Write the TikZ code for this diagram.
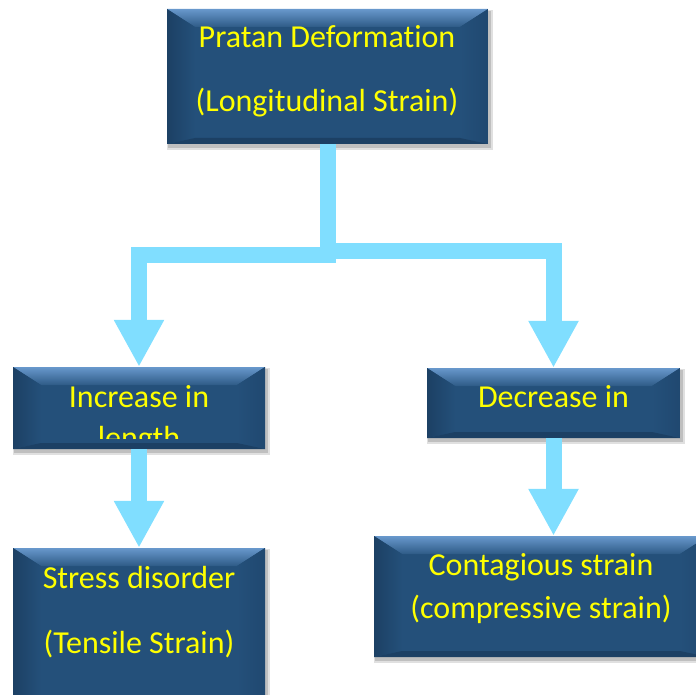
\documentclass[tikz,border=0pt]{standalone}
\usepackage{fontspec}
\setmainfont[Ligatures=NoCommon]{Carlito}
\usetikzlibrary{arrows.meta,positioning}
\pgfdeclarelayer{bg}
\pgfsetlayers{bg,main}
\definecolor{boxblue}{RGB}{36,80,122}
\definecolor{bevtop}{RGB}{104,152,204}
\definecolor{bevdark}{RGB}{28,64,100}
\definecolor{bevside}{RGB}{32,72,112}
\definecolor{flowblue}{RGB}{128,222,255}
\definecolor{txtyellow}{RGB}{255,255,0}

\tikzset{
  bevelbox/.style 2 args={rectangle, fill=boxblue, inner sep=0pt,
    minimum width=#1pt, minimum height=#2pt,
    path picture={
      \path (path picture bounding box.north west) coordinate (nw)
            (path picture bounding box.north east) coordinate (ne)
            (path picture bounding box.south west) coordinate (sw)
            (path picture bounding box.south east) coordinate (se);
      \shade[top color=bevtop, bottom color=boxblue!85!bevtop]
        (nw) -- (ne) -- ([shift={(-28pt,-18pt)}]ne) -- ([shift={(28pt,-18pt)}]nw) -- cycle;
      \shade[left color=bevdark, right color=boxblue]
        (nw) -- ([shift={(28pt,-18pt)}]nw) -- ([shift={(28pt,6pt)}]sw) -- (sw) -- cycle;
      \shade[left color=boxblue, right color=bevside]
        (ne) -- ([shift={(-28pt,-18pt)}]ne) -- ([shift={(-28pt,6pt)}]se) -- (se) -- cycle;
      \fill[bevdark]
        (sw) -- ([shift={(28pt,6pt)}]sw) -- ([shift={(-28pt,6pt)}]se) -- (se) -- cycle;
    }},
  flow/.style={draw=flowblue, line width=16pt, line join=miter,
    -{Triangle[width=47pt,length=47pt]}},
  lbl/.style={text=txtyellow, inner sep=0pt, anchor=base,
    font=\fontsize{32}{38}\selectfont}
}

\begin{document}
\begin{tikzpicture}[x=1pt,y=-1pt]
  \useasboundingbox (0,0) rectangle (696,695);

  % boxes
  \node[bevelbox={321}{135}] (top) at (327.5,76.5) {};
  \node[bevelbox={252}{82}]  (inc) at (139,408) {};
  \node[bevelbox={253}{70}]  (dec) at (553.5,403) {};
  \node[bevelbox={252}{164}] (ten) at (139,630) {};
  \node[bevelbox={334}{121}] (com) at (541,596.5) {};

  % soft shadows
  \begin{pgfonlayer}{bg}
    \foreach \b in {top,inc,dec,ten,com} {
      \fill[black,opacity=0.12] ([shift={(0pt,-1pt)}]\b.north west) rectangle ([shift={(5pt,-6pt)}]\b.south east);
      \fill[black,opacity=0.15] ([shift={(1pt,-2pt)}]\b.north west) rectangle ([shift={(3pt,-4pt)}]\b.south east);
    }
  \end{pgfonlayer}

  % texts
  \node[lbl] (toptxta) at (327,48) {Pratan Deformation};
  \node[lbl] (toptxtb) at (327,112) {(Longitudinal Strain)};
  \begin{scope}
    \clip (inc.north west) rectangle ([yshift=11pt]inc.south east);
    \node[lbl] (inctxta) at (139,407) {Increase in};
    \node[lbl] (inctxtb) at (139,448) {length};
  \end{scope}
  \node[lbl] (dectxt) at (553.5,407) {Decrease in};
  \node[lbl] (tentxta) at (139,588) {Stress disorder};
  \node[lbl] (tentxtb) at (139,653) {(Tensile Strain)};
  \node[lbl] (comtxta) at (541,575) {Contagious strain};
  \node[lbl] (comtxtb) at (541,618) {(compressive strain)};

  % connectors
  \draw[flow] (top.south) -- ++(0,111) -| (inc.north);
  \draw[flow] (top.south) -- ++(0,107) -| (dec.north);
  \draw[flow] (inc.south) -- (ten.north);
  \draw[flow] (dec.south) -- (dec.south |- com.north);
\end{tikzpicture}
\end{document}
